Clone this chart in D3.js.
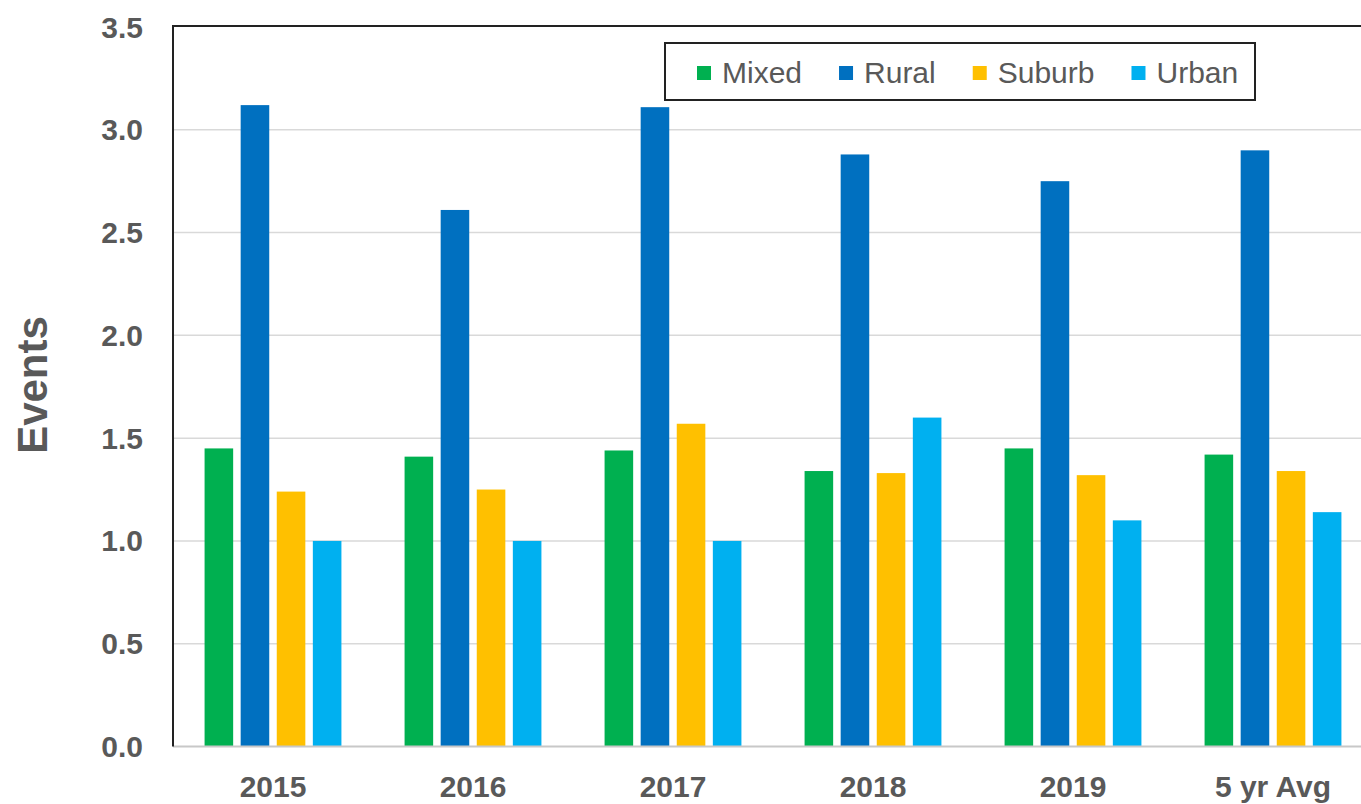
<!DOCTYPE html>
<html>
<head>
<meta charset="utf-8">
<script src="https://cdn.jsdelivr.net/npm/d3@7"></script>
<style>
  body { margin: 0; background: #fff; }
  svg { display: block; font-family: "Liberation Sans", Arial, sans-serif; }
</style>
</head>
<body>
<svg id="chart" width="1361" height="804"></svg>
<script>
// data
const categories = ["2015", "2016", "2017", "2018", "2019", "5 yr Avg"];
const seriesNames = ["Mixed", "Rural", "Suburb", "Urban"];
const mixed  = [1.45, 1.41, 1.44, 1.34, 1.45, 1.42];
const rural  = [3.12, 2.61, 3.11, 2.88, 2.75, 2.90];
const suburb = [1.24, 1.25, 1.57, 1.33, 1.32, 1.34];
const urban  = [1.00, 1.00, 1.00, 1.60, 1.10, 1.14];
const yTicks = [0, 0.5, 1.0, 1.5, 2.0, 2.5, 3.0, 3.5];

const seriesValues = [mixed, rural, suburb, urban];
const colors = ["#00B050", "#0070C0", "#FFC000", "#00B0F0"];

const svg = d3.select("#chart"),
      width = +svg.attr("width");

const plot = { left: 173, top: 27, right: 1373, bottom: 746.5 };

const x0 = d3.scaleBand()
    .domain(categories)
    .range([plot.left, plot.right]);

const x1 = d3.scaleBand()
    .domain(seriesNames)
    .range([0, x0.bandwidth()])
    .paddingInner(0.208)
    .paddingOuter(0.875);

const y = d3.scaleLinear()
    .domain([0, 3.5])
    .range([plot.bottom, plot.top]);

const color = d3.scaleOrdinal(seriesNames, colors);

// gridlines
svg.append("g")
    .selectAll("line")
    .data(yTicks.filter(d => d > 0 && d < 3.5))
    .enter().append("line")
    .attr("x1", plot.left)
    .attr("x2", width)
    .attr("y1", d => y(d))
    .attr("y2", d => y(d))
    .attr("stroke", "#d9d9d9")
    .attr("stroke-width", 1.5);

// bars
const rows = categories.map((c, i) => ({
    cat: c,
    vals: seriesNames.map((s, j) => ({ key: s, value: seriesValues[j][i] }))
}));

svg.append("g")
    .selectAll("g")
    .data(rows)
    .enter().append("g")
    .attr("transform", d => `translate(${x0(d.cat)},0)`)
    .selectAll("rect")
    .data(d => d.vals)
    .enter().append("rect")
    .attr("x", d => x1(d.key))
    .attr("y", d => y(d.value))
    .attr("width", x1.bandwidth())
    .attr("height", d => y(0) - y(d.value))
    .attr("fill", d => color(d.key));

// x axis line (grey) and plot frame (black on left/top)
svg.append("line")
    .attr("x1", plot.left).attr("x2", width)
    .attr("y1", y(0)).attr("y2", y(0))
    .attr("stroke", "#c8c8c8")
    .attr("stroke-width", 2);

svg.append("path")
    .attr("d", `M${plot.left},${y(0)}V${y(3.5) - 1}H${width}`)
    .attr("fill", "none")
    .attr("stroke", "#222")
    .attr("stroke-width", 2);

// y tick labels
svg.append("g")
    .selectAll("text")
    .data(yTicks)
    .enter().append("text")
    .attr("x", 143)
    .attr("y", d => y(d))
    .attr("dy", "0.35em")
    .attr("text-anchor", "end")
    .attr("font-size", 30)
    .attr("font-weight", "bold")
    .attr("fill", "#595959")
    .text(d3.format(".1f"));

// x tick labels
svg.append("g")
    .selectAll("text")
    .data(categories)
    .enter().append("text")
    .attr("x", d => x0(d) + x0.bandwidth() / 2)
    .attr("y", 797)
    .attr("text-anchor", "middle")
    .attr("font-size", 30)
    .attr("font-weight", "bold")
    .attr("fill", "#595959")
    .text(d => d);

// y axis title
svg.append("text")
    .attr("transform", "translate(47,385) rotate(-90)")
    .attr("text-anchor", "middle")
    .attr("font-size", 42)
    .attr("font-weight", "bold")
    .attr("fill", "#595959")
    .text("Events");

// legend
const legend = svg.append("g");
legend.append("rect")
    .attr("x", 665).attr("y", 43)
    .attr("width", 590).attr("height", 57)
    .attr("fill", "#fff")
    .attr("stroke", "#222")
    .attr("stroke-width", 2);

let lx = 697;
seriesNames.forEach(s => {
    const item = legend.append("g");
    item.append("rect")
        .attr("x", lx).attr("y", 66)
        .attr("width", 14).attr("height", 14)
        .attr("fill", color(s));
    const t = item.append("text")
        .attr("x", lx + 25)
        .attr("y", 83)
        .attr("font-size", 30)
        .attr("fill", "#595959")
        .text(s);
    lx += 25 + t.node().getComputedTextLength() + 37;
});
</script>
</body>
</html>
